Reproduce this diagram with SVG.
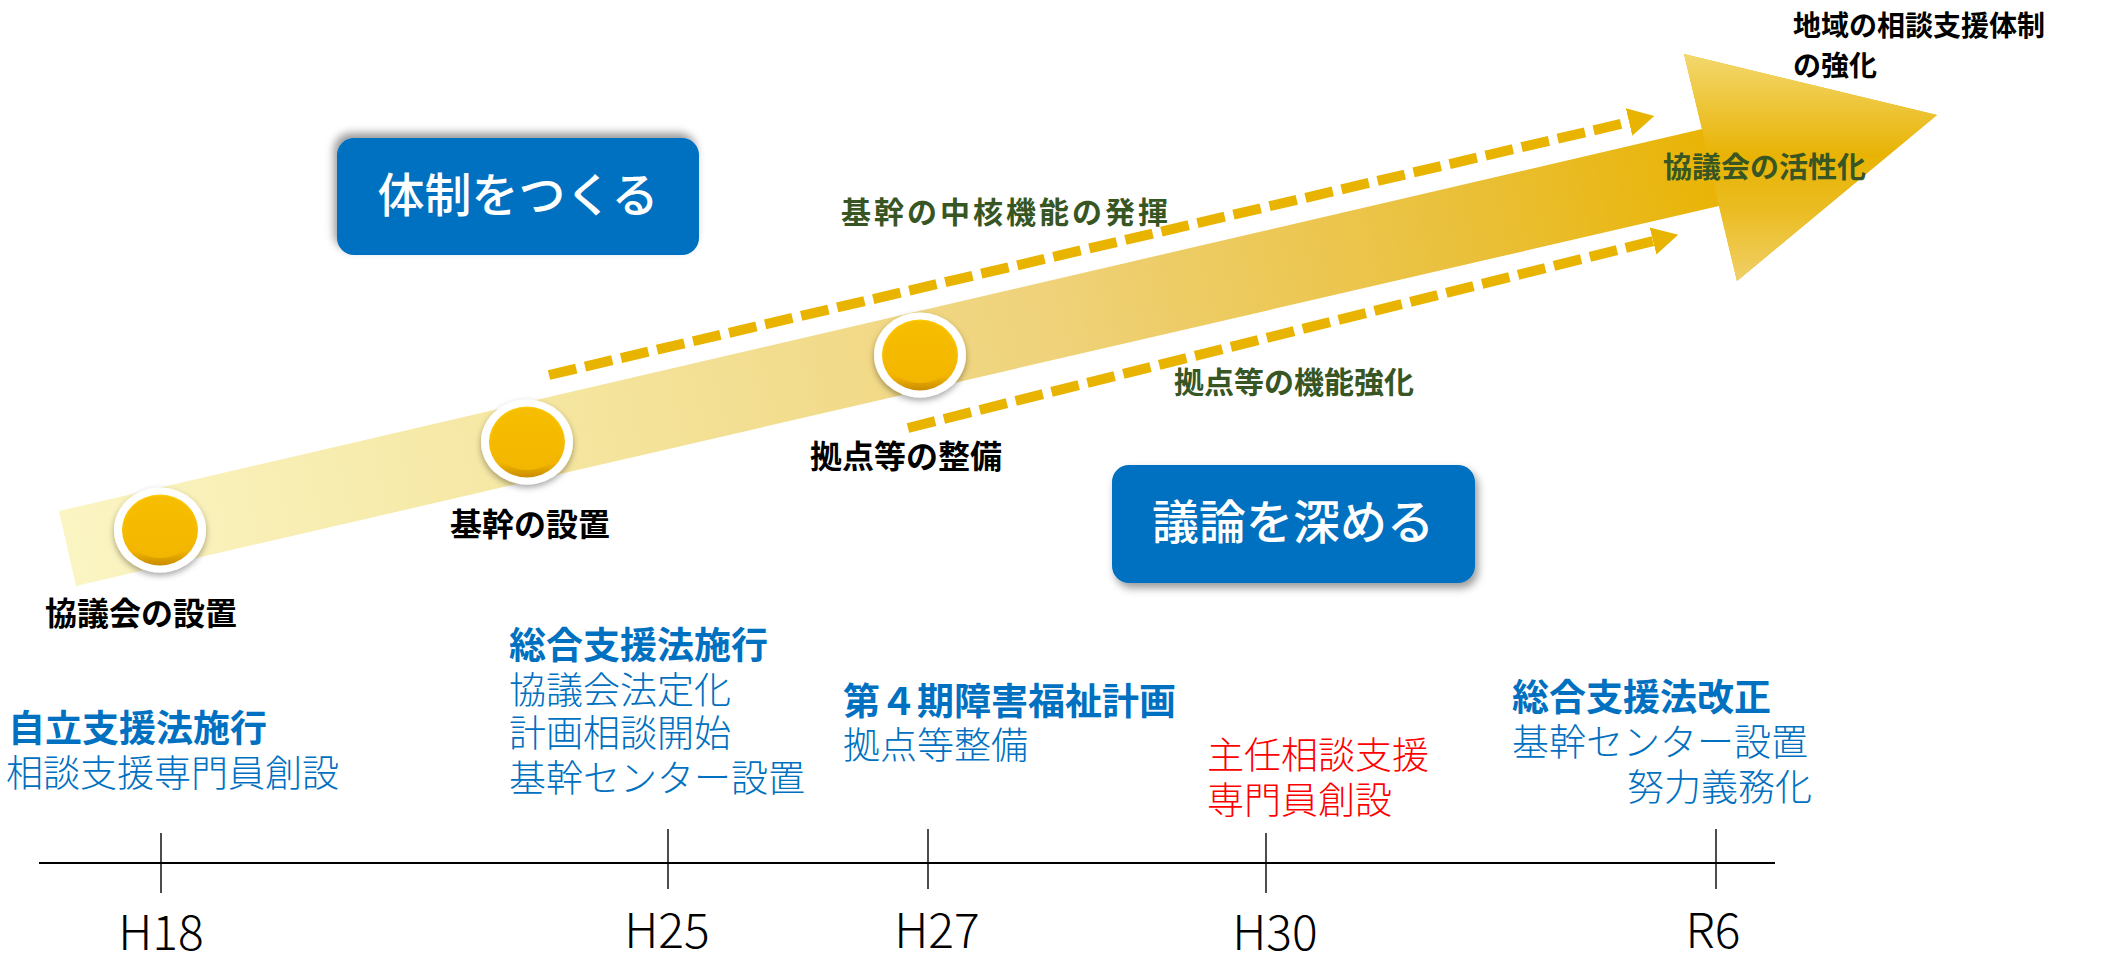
<svg xmlns="http://www.w3.org/2000/svg" width="2101" height="959" viewBox="0 0 2101 959">
<defs>
<linearGradient id="shaftG" gradientUnits="userSpaceOnUse" x1="59" y1="548" x2="1710" y2="168">
<stop offset="0" stop-color="#fbf5c4"/>
<stop offset="0.3" stop-color="#f5e6a0"/>
<stop offset="0.6" stop-color="#efd27a"/>
<stop offset="0.85" stop-color="#eac03a"/>
<stop offset="1" stop-color="#e9b406"/>
</linearGradient>
<linearGradient id="headG" gradientUnits="userSpaceOnUse" x1="0" y1="54" x2="0" y2="281">
<stop offset="0" stop-color="#f3d86e"/>
<stop offset="0.45" stop-color="#e8b304"/>
<stop offset="0.7" stop-color="#ebbd24"/>
<stop offset="1" stop-color="#f0d068"/>
</linearGradient>
<linearGradient id="goldG" x1="0" y1="0" x2="0" y2="1">
<stop offset="0" stop-color="#fdc900"/>
<stop offset="0.8" stop-color="#f2b400"/>
<stop offset="1" stop-color="#c88c00"/>
</linearGradient>
<linearGradient id="goldIn" x1="0" y1="0" x2="0" y2="1">
<stop offset="0" stop-color="#f7be00"/>
<stop offset="1" stop-color="#f3b600"/>
</linearGradient>
<filter id="dotShadow" x="-30%" y="-30%" width="160%" height="170%">
<feDropShadow dx="0" dy="3" stdDeviation="3" flood-color="#000" flood-opacity="0.35"/>
</filter>
<filter id="shUp" x="-10%" y="-20%" width="120%" height="140%">
<feDropShadow dx="-3" dy="-5" stdDeviation="4" flood-color="#000" flood-opacity="0.4"/>
</filter>
<filter id="shDown" x="-10%" y="-20%" width="120%" height="140%">
<feDropShadow dx="3" dy="5" stdDeviation="4" flood-color="#000" flood-opacity="0.4"/>
</filter>
<marker id="ah" markerUnits="userSpaceOnUse" markerWidth="30" markerHeight="32" viewBox="0 -16 30 32" refX="0" refY="0" orient="auto">
<path d="M0,-14 L26,0 L0,14 Z" fill="#e9b400"/>
</marker>
<style>
text{font-family:"Noto Sans CJK JP","Noto Sans CJK SC",sans-serif}
.lbl{font-size:32px;font-weight:700;fill:#000}
.grn{font-size:30px;font-weight:700;fill:#375623;letter-spacing:3px}
.box{fill:#0070c0}
.boxt{font-size:47px;font-weight:500;fill:#fff;text-anchor:middle}
.bh{font-size:37px;font-weight:700;fill:#0070c0}
.bt{font-size:37px;font-weight:300;fill:#0070c0}
.rt{font-size:37px;font-weight:300;fill:#ff0000}
.yr{font-size:48px;font-weight:300;fill:#000;text-anchor:middle}
.tick{stroke:#000;stroke-width:1.4}
.dash{fill:none;stroke:#e9b400;stroke-width:10;stroke-dasharray:28 9}
</style>
</defs>
<rect width="2101" height="959" fill="#fff"/>

<g id="main-arrow">
<path d="M59,511 L1702,129 L1684,54 L1937,115 L1737,281 L1719,206 L76,586 Z" fill="url(#shaftG)"/>
<path d="M1684,54 L1937,115 L1737,281 L1719,206 L1702,129 Z" fill="url(#headG)"/>
</g>

<g id="connectors">
<line class="dash" x1="549" y1="375" x2="1629" y2="122" marker-end="url(#ah)"/>
<line class="dash" x1="908" y1="428" x2="1653" y2="241" marker-end="url(#ah)"/>
</g>

<g id="dot1">
<ellipse cx="160" cy="530" rx="46" ry="42.5" fill="#fff" filter="url(#dotShadow)"/>
<ellipse cx="160" cy="530" rx="38" ry="35.5" fill="url(#goldG)"/>
<ellipse cx="160" cy="527" rx="35" ry="31" fill="url(#goldIn)"/>
</g>
<g id="dot2">
<ellipse cx="527" cy="442" rx="46" ry="42.5" fill="#fff" filter="url(#dotShadow)"/>
<ellipse cx="527" cy="442" rx="38" ry="35.5" fill="url(#goldG)"/>
<ellipse cx="527" cy="439" rx="35" ry="31" fill="url(#goldIn)"/>
</g>
<g id="dot3">
<ellipse cx="920" cy="355" rx="46" ry="42.5" fill="#fff" filter="url(#dotShadow)"/>
<ellipse cx="920" cy="355" rx="38" ry="35.5" fill="url(#goldG)"/>
<ellipse cx="920" cy="352" rx="35" ry="31" fill="url(#goldIn)"/>
</g>

<g id="labels-arrow">
<text class="lbl" x="45" y="625">協議会の設置</text>
<text class="lbl" x="450" y="536">基幹の設置</text>
<text class="lbl" x="810" y="468">拠点等の整備</text>
<text class="grn" x="841" y="223">基幹の中核機能の発揮</text>
<text class="grn" x="1174" y="393" style="letter-spacing:0">拠点等の機能強化</text>
<text class="grn" x="1663" y="178" style="font-size:29px;letter-spacing:0">協議会の活性化</text>
<text class="lbl" x="1793" y="36" style="font-size:28px">地域の相談支援体制</text>
<text class="lbl" x="1793" y="76" style="font-size:28px">の強化</text>
</g>

<g id="box-taisei">
<rect class="box" x="337" y="138" width="362" height="117" rx="17" filter="url(#shUp)"/>
<text class="boxt" x="518" y="212">体制をつくる</text>
</g>
<g id="box-giron">
<rect class="box" x="1112" y="465" width="363" height="118" rx="17" filter="url(#shDown)"/>
<text class="boxt" x="1293" y="539">議論を深める</text>
</g>

<g id="timeline">
<line x1="39" y1="863" x2="1775" y2="863" stroke="#000" stroke-width="2"/>
<line class="tick" x1="161" y1="833" x2="161" y2="893"/>
<line class="tick" x1="668" y1="829" x2="668" y2="889"/>
<line class="tick" x1="928" y1="829" x2="928" y2="889"/>
<line class="tick" x1="1266" y1="833" x2="1266" y2="893"/>
<line class="tick" x1="1716" y1="829" x2="1716" y2="889"/>
<text class="yr" x="161" y="950">H18</text>
<text class="yr" x="667" y="948">H25</text>
<text class="yr" x="937" y="948">H27</text>
<text class="yr" x="1275" y="950">H30</text>
<text class="yr" x="1713" y="948">R6</text>
</g>

<g id="ev-h18">
<text class="bh" x="8" y="742">自立支援法施行</text>
<text class="bt" x="6" y="787">相談支援専門員創設</text>
</g>
<g id="ev-h25">
<text class="bh" x="509" y="659">総合支援法施行</text>
<text class="bt" x="509" y="704">協議会法定化</text>
<text class="bt" x="509" y="747">計画相談開始</text>
<text class="bt" x="509" y="792">基幹センター設置</text>
</g>
<g id="ev-h27">
<text class="bh" x="843" y="715">第４期障害福祉計画</text>
<text class="bt" x="843" y="759">拠点等整備</text>
</g>
<g id="ev-h30">
<text class="rt" x="1207" y="769">主任相談支援</text>
<text class="rt" x="1207" y="814">専門員創設</text>
</g>
<g id="ev-r6">
<text class="bh" x="1512" y="711">総合支援法改正</text>
<text class="bt" x="1512" y="756">基幹センター設置</text>
<text class="bt" x="1812" y="801" text-anchor="end">努力義務化</text>
</g>
</svg>
